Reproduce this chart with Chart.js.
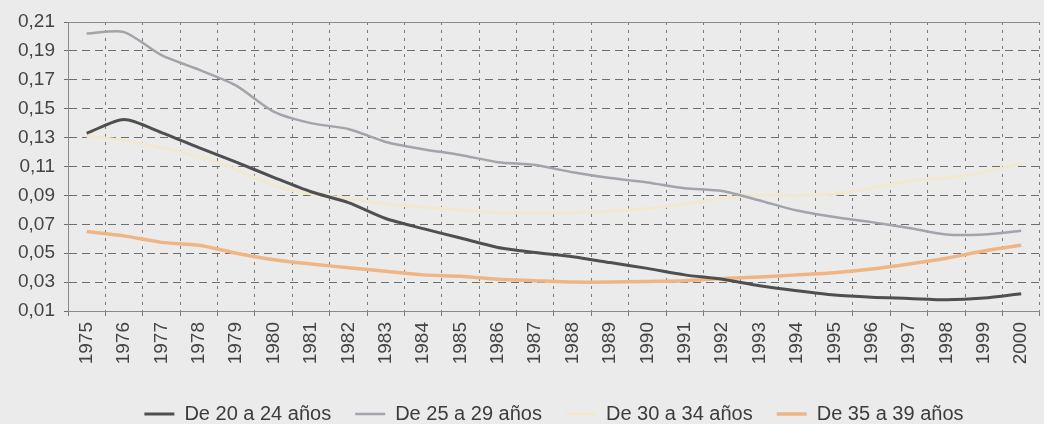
<!DOCTYPE html>
<html>
<head>
<meta charset="utf-8">
<script src="https://cdn.jsdelivr.net/npm/chart.js@4/dist/chart.umd.min.js"></script>
<style>
    html, body { margin: 0; padding: 0; background: #ebebeb; overflow: hidden; }
    #wrap { width: 1044px; height: 424px; overflow: hidden; position: relative; }
    #box { width: 1050px; height: 434px; position: absolute; left: 0; top: 0; }
</style>
</head>
<body>
<div id="wrap"><div id="box"><canvas id="tasas"></canvas></div></div>
<script>
var anos = ['1975', '1976', '1977', '1978', '1979', '1980', '1981', '1982', '1983', '1984', '1985', '1986', '1987',
    '1988', '1989', '1990', '1991', '1992', '1993', '1994', '1995', '1996', '1997', '1998', '1999', '2000'];

var de20a24 = [0.133, 0.1425, 0.1335, 0.123, 0.113, 0.1025, 0.0925, 0.085, 0.074, 0.067, 0.0605, 0.054, 0.0505,
    0.0475, 0.0435, 0.0395, 0.035, 0.032, 0.0275, 0.024, 0.021, 0.0195, 0.0187, 0.0178, 0.019, 0.022];
var de25a29 = [0.202, 0.203, 0.187, 0.177, 0.166, 0.148, 0.140, 0.136, 0.127, 0.122, 0.118, 0.113, 0.111,
    0.106, 0.102, 0.099, 0.095, 0.093, 0.0865, 0.0795, 0.075, 0.0715, 0.0675, 0.063, 0.063, 0.0655];
var de30a34 = [0.131, 0.128, 0.123, 0.117, 0.108, 0.097, 0.091, 0.088, 0.084, 0.082, 0.080, 0.078, 0.078,
    0.078, 0.079, 0.081, 0.084, 0.088, 0.090, 0.090, 0.091, 0.095, 0.100, 0.102, 0.106, 0.112];
var de35a39 = [0.065, 0.062, 0.0575, 0.0555, 0.050, 0.0455, 0.0425, 0.040, 0.0375, 0.035, 0.034, 0.032, 0.031,
    0.030, 0.030, 0.0305, 0.031, 0.0325, 0.0335, 0.035, 0.0365, 0.039, 0.0425, 0.0465, 0.0515, 0.0555];

var fuente = "'Liberation Sans', Arial, sans-serif";

// linea superior del marco
var bordeSuperior = {
    id: 'bordeSuperior',
    afterDraw: function (chart) {
        var ctx = chart.ctx;
        var area = chart.chartArea;
        ctx.save();
        ctx.strokeStyle = '#8a8a8a';
        ctx.lineWidth = 1;
        ctx.beginPath();
        ctx.moveTo(area.left, area.top + 0.5);
        ctx.lineTo(area.right, area.top + 0.5);
        ctx.stroke();
        ctx.restore();
    }
};

function serie(nombre, datos, color, ancho) {
    return {
        label: nombre,
        data: datos,
        borderColor: color,
        backgroundColor: color,
        borderWidth: ancho,
        pointRadius: 0,
        tension: 0.25,
        fill: false
    };
}

new Chart(document.getElementById('tasas'), {
    type: 'line',
    data: {
        labels: anos,
        datasets: [
            serie('De 20 a 24 años', de20a24, '#4f4f4f', 3),
            serie('De 25 a 29 años', de25a29, '#a3a3ab', 2.5),
            serie('De 30 a 34 años', de30a34, '#f1e8cf', 3),
            serie('De 35 a 39 años', de35a39, '#f0b585', 3.5)
        ]
    },
    options: {
        responsive: true,
        maintainAspectRatio: false,
        animation: { duration: 0 },
        layout: { padding: { top: 22, left: 0, right: 0, bottom: 0 } },
        plugins: {
            tooltip: { enabled: false },
            legend: {
                position: 'bottom',
                fullSize: false,
                labels: {
                    usePointStyle: true,
                    pointStyle: 'line',
                    pointStyleWidth: 30,
                    padding: 24,
                    color: '#3c3c3c',
                    font: { family: fuente, size: 20 }
                }
            }
        },
        scales: {
            x: {
                offset: true,
                grid: {
                    offset: true,
                    color: '#7a7a7a',
                    lineWidth: 1,
                    tickLength: 5
                },
                border: { color: '#8a8a8a', dash: [3, 5] },
                ticks: {
                    minRotation: 90,
                    maxRotation: 90,
                    padding: 6,
                    color: '#444',
                    font: { family: fuente, size: 19 }
                },
                afterFit: function (scale) { scale.height = 69; }
            },
            y: {
                min: 0.01,
                max: 0.21,
                ticks: {
                    stepSize: 0.02,
                    padding: 9,
                    color: '#444',
                    font: { family: fuente, size: 19 },
                    callback: function (v) { return v.toFixed(2).replace('.', ','); }
                },
                grid: {
                    color: '#6e6e6e',
                    lineWidth: 1,
                    tickLength: 4
                },
                border: { color: '#8a8a8a', dash: [8, 5] },
                afterFit: function (scale) { scale.width = 68; }
            }
        }
    },
    plugins: [bordeSuperior]
});
</script>
</body>
</html>
